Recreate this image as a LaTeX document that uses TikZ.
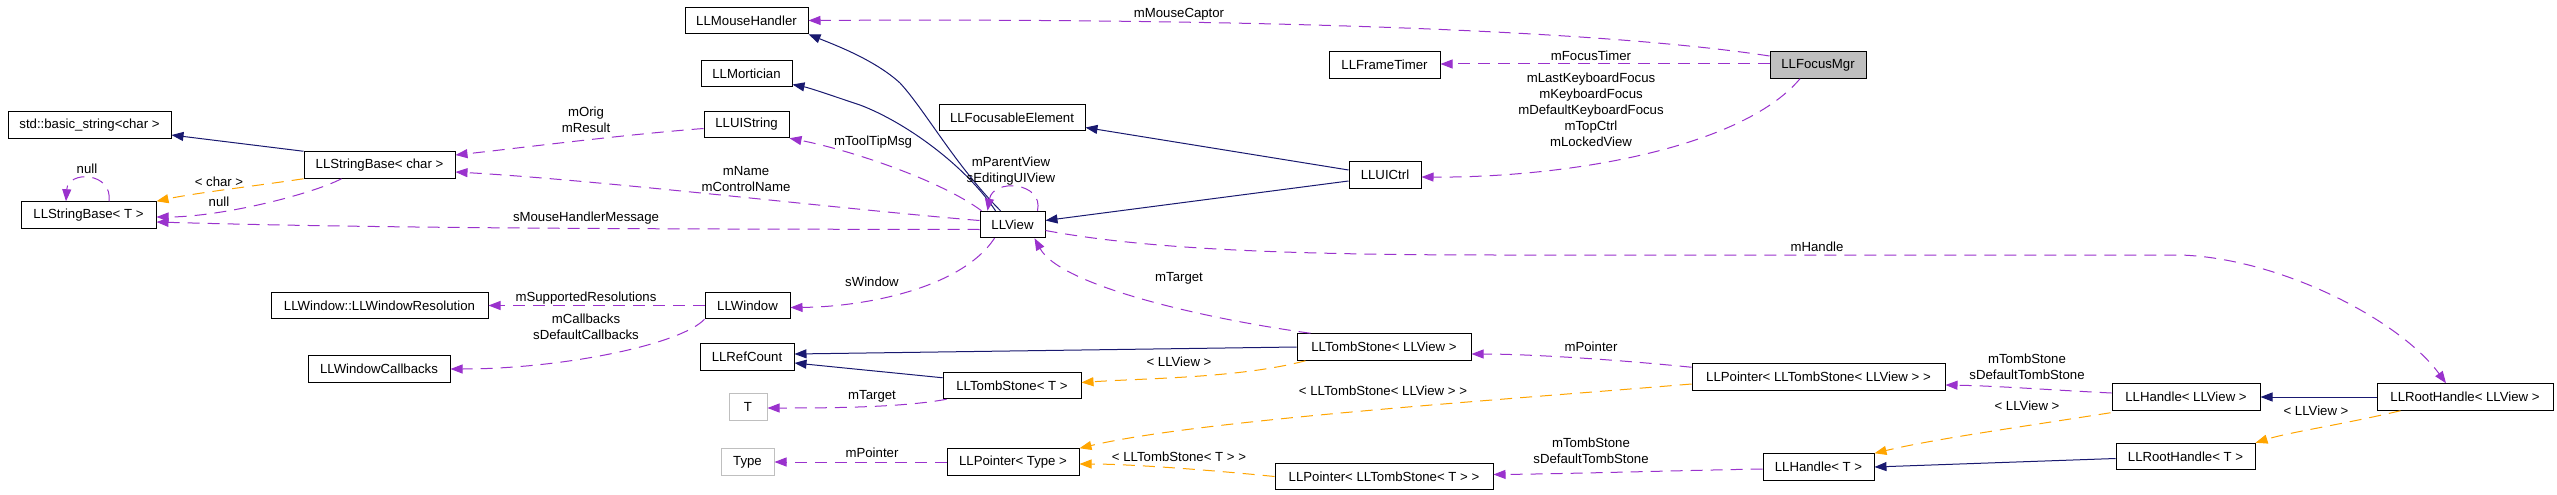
\documentclass[tikz,border=0pt]{standalone}
\usepackage{fontspec}
\setmainfont{Liberation Sans}
\usetikzlibrary{arrows.meta,calc}
\definecolor{navy}{HTML}{191970}
\definecolor{purp}{HTML}{9A32CD}
\definecolor{orng}{HTML}{FFA500}
\definecolor{gbox}{HTML}{BFBFBF}
\begin{document}
\begin{tikzpicture}[x=1pt,y=-1pt,
  cls/.style={draw=black, line width=1pt, minimum height=26.5pt, inner sep=0pt, fill=white, font=\fontsize{13.2}{16}\selectfont},
  extcls/.style={cls, draw=gbox},
  lbl/.style={font=\fontsize{13.2}{16}\selectfont, inner sep=0pt, align=center},
  inh/.style={draw=navy, line width=1pt, -{Triangle[length=12pt,width=9pt]}},
  mem/.style={draw=purp, line width=1pt, dash pattern=on 12pt off 8pt, -{Triangle[length=12pt,width=9pt]}},
  tmpl/.style={draw=orng, line width=1pt, dash pattern=on 12pt off 8pt, -{Triangle[length=12pt,width=9pt]}}]
\fill[white] (0,0) rectangle (2557,495);
\useasboundingbox (0,0) rectangle (2557,495);
% nodes
\node[cls, minimum width=163pt] (stdstr) at (89.5,125) {std::basic\_string<char >};
\node[cls, minimum width=151pt] (sbc) at (379.5,165) {LLStringBase< char >};
\node[cls, minimum width=135pt] (sbt) at (88.5,215) {LLStringBase< T >};
\node[cls, minimum width=123pt] (mouse) at (746.5,20.5) {LLMouseHandler};
\node[cls, minimum width=91pt] (mort) at (746.5,73.5) {LLMortician};
\node[cls, minimum width=85pt] (uistr) at (746.5,124.5) {LLUIString};
\node[cls, minimum width=146pt] (focel) at (1012,117.5) {LLFocusableElement};
\node[cls, minimum width=65pt] (view) at (1012.5,224.5) {LLView};
\node[cls, minimum width=111pt] (frame) at (1384.5,65) {LLFrameTimer};
\node[cls, minimum width=96pt, fill=gbox] (fmgr) at (1818,65) {LLFocusMgr};
\node[cls, minimum width=72pt] (uictrl) at (1385,175) {LLUICtrl};
\node[cls, minimum width=217pt] (wres) at (379.5,305.5) {LLWindow::LLWindowResolution};
\node[cls, minimum width=142pt] (wcb) at (379,369) {LLWindowCallbacks};
\node[cls, minimum width=85pt] (win) at (747.5,305.5) {LLWindow};
\node[cls, minimum width=94pt] (ref) at (747,357) {LLRefCount};
\node[cls, minimum width=138pt] (tst) at (1012,385.5) {LLTombStone< T >};
\node[extcls, minimum width=38pt] (T) at (748,407) {T};
\node[extcls, minimum width=53pt] (Type) at (747.5,462) {Type};
\node[cls, minimum width=132pt] (ptype) at (1013,462) {LLPointer< Type >};
\node[cls, minimum width=174pt] (tsv) at (1384,347) {LLTombStone< LLView >};
\node[cls, minimum width=218pt] (ptst) at (1384,476.5) {LLPointer< LLTombStone< T > >};
\node[cls, minimum width=253pt] (ptsv) at (1818.5,377) {LLPointer< LLTombStone< LLView > >};
\node[cls, minimum width=111pt] (ht) at (1818.5,467) {LLHandle< T >};
\node[cls, minimum width=148pt] (hv) at (2186,397) {LLHandle< LLView >};
\node[cls, minimum width=176pt] (rhv) at (2465,397) {LLRootHandle< LLView >};
\node[cls, minimum width=139pt] (rht) at (2185.5,456.5) {LLRootHandle< T >};
% inheritance
\draw[inh] (sbc.north west) -- ($(stdstr.east)+(0,10)$);
\draw[inh] ($(view.north)+(-12,0)$) .. controls (955,165) and (925,110) .. (900,83) .. controls (875,60) and (835,45) .. (mouse.south east);
\draw[inh] ($(view.north)+(-17,0)$) .. controls (965,165) and (905,122) .. (860,105) .. controls (830,95) and (810,88) .. ($(mort.east)+(0,11)$);
\draw[inh] ($(uictrl.west)+(0,-5)$) -- ($(focel.east)+(0,10)$);
\draw[inh] ($(uictrl.west)+(0,6)$) -- ($(view.east)+(0,-4)$);
\draw[inh] (tsv.west) -- ($(ref.east)+(0,-3)$);
\draw[inh] ($(tst.north west)+(0,6)$) -- ($(ref.east)+(0,6)$);
\draw[inh] (rhv.west) -- (hv.east);
\draw[inh] ($(rht.west)+(0,2)$) -- (ht.east);
% templates
\draw[tmpl] (sbc.south west) .. controls (255,186) and (195,193) .. (sbt.north east);
\node[lbl] (l1) at (219,182) {< char >};
\draw[tmpl] ($(tsv.south west)+(9,0)$) .. controls (1240,378) and (1150,378) .. ($(tst.east)+(0,-3)$);
\node[lbl] (l2) at (1179,362) {< LLView >};
\draw[tmpl] ($(ptsv.west)+(0,7)$) .. controls (1500,400) and (1200,420) .. (ptype.north east);
\node[lbl] (l3) at (1383,391) {< LLTombStone< LLView > >};
\draw[tmpl] (ptst.west) .. controls (1210,470) and (1130,464) .. ($(ptype.east)+(0,2)$);
\node[lbl] (l4) at (1179,457) {< LLTombStone< T > >};
\draw[tmpl] ($(hv.south west)+(-1,2)$) .. controls (2000,430) and (1930,440) .. (ht.north east);
\node[lbl] (l5) at (2027,406) {< LLView >};
\draw[tmpl] ($(rhv.south west)+(24,0)$) .. controls (2340,425) and (2290,432) .. (rht.north east);
\node[lbl] (l6) at (2316,411) {< LLView >};
% members
\draw[mem] ($(sbt.north)+(20.5,0)$) .. controls (113,172) and (68,170) .. ($(sbt.north)+(-22.5,0)$);
\node[lbl] (m1) at (87,169) {null};
\draw[mem] ($(sbc.south)+(-38,0)$) .. controls (310,195) and (220,217) .. ($(sbt.east)+(0,2)$);
\node[lbl] (m2) at (219,202) {null};
\draw[mem] ($(view.west)+(0,5)$) .. controls (700,229) and (400,229) .. ($(sbt.east)+(0,7)$);
\node[lbl] (m3) at (586,218) {sMouseHandlerMessage};
\draw[mem] ($(uistr.west)+(0,4)$) .. controls (620,135) and (520,148) .. ($(sbc.east)+(0,-10)$);
\node[lbl] (m4) at (586,120) {mOrig\\mResult};
\draw[mem] ($(view.west)+(0,-4)$) .. controls (850,210) and (600,180) .. ($(sbc.east)+(0,7)$);
\node[lbl] (m5) at (746,179) {mName\\mControlName};
\draw[mem] ($(view.north west)+(2,0)$) .. controls (940,180) and (850,150) .. (uistr.south east);
\node[lbl] (m6) at (873,142) {mToolTipMsg};
\draw[mem] ($(view.north east)+(-8,0)$) .. controls (1044,182) and (993,178) .. ($(view.north)+(-25,0)$);
\node[lbl] (m7) at (1011,171) {mParentView\\sEditingUIView};
\draw[mem] ($(fmgr.west)+(0,-9)$) .. controls (1600,30) and (1250,18) .. (mouse.east);
\node[lbl] (m8) at (1179,14) {mMouseCaptor};
\draw[mem] ($(fmgr.west)+(0,-1)$) -- ($(frame.east)+(0,-1)$);
\node[lbl] (m9) at (1591,56) {mFocusTimer};
\draw[mem] ($(fmgr.south)+(-18,0)$) .. controls (1740,150) and (1560,178) .. ($(uictrl.east)+(0,2)$);
\node[lbl] (m10) at (1591,110) {mLastKeyboardFocus\\mKeyboardFocus\\mDefaultKeyboardFocus\\mTopCtrl\\mLockedView};
\draw[mem] (win.west) -- (wres.east);
\node[lbl] (m11) at (586,298) {mSupportedResolutions};
\draw[mem] (win.south west) .. controls (680,345) and (560,369) .. (wcb.east);
\node[lbl] (m12) at (586,327) {mCallbacks\\sDefaultCallbacks};
\draw[mem] ($(view.south)+(-18,0)$) .. controls (960,290) and (860,307) .. ($(win.east)+(0,2)$);
\node[lbl] (m13) at (872,282) {sWindow};
\draw[mem] ($(tsv.north west)+(14,0)$) .. controls (1200,318) and (1060,285) .. ($(view.south east)+(-11,0)$);
\node[lbl] (m14) at (1179,278) {mTarget};
\draw[mem] ($(view.east)+(0,6)$) .. controls (1150,250) and (1300,255) .. (1500,255) -- (2180,255) .. controls (2280,258) and (2400,320) .. ($(rhv.north)+(-19,0)$);
\node[lbl] (m15) at (1817,247) {mHandle};
\draw[mem] ($(tst.south west)+(4,0)$) .. controls (900,408) and (820,408) .. ($(T.east)+(0,1)$);
\node[lbl] (m16) at (872,396) {mTarget};
\draw[mem] (ptype.west) -- (Type.east);
\node[lbl] (m17) at (872,453) {mPointer};
\draw[mem] ($(ptsv.north west)+(0,4)$) .. controls (1600,358) and (1520,354) .. ($(tsv.east)+(0,7)$);
\node[lbl] (m18) at (1591,347) {mPointer};
\draw[mem] ($(hv.west)+(0,-4)$) .. controls (2050,390) and (2000,386) .. ($(ptsv.east)+(0,8)$);
\node[lbl] (m19) at (2027,367) {mTombStone\\sDefaultTombStone};
\draw[mem] ($(ht.west)+(0,2)$) .. controls (1700,470) and (1560,474) .. ($(ptst.east)+(0,-2)$);
\node[lbl] (m20) at (1591,451) {mTombStone\\sDefaultTombStone};
\end{tikzpicture}
\end{document}
